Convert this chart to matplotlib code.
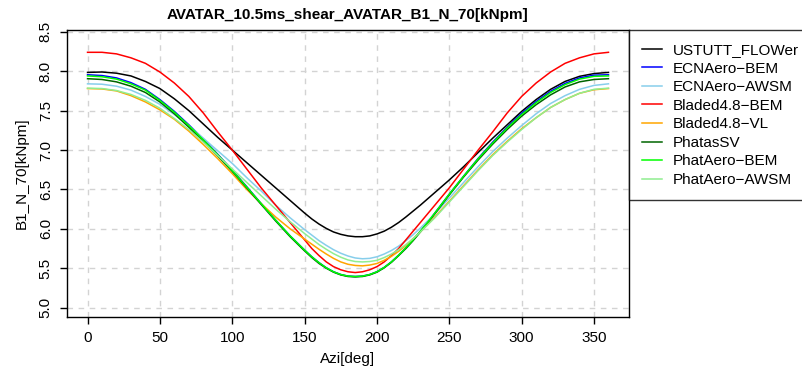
import matplotlib
matplotlib.use("Agg")
import matplotlib.pyplot as plt
import numpy as np

plt.rcParams['font.family'] = ['Liberation Sans', 'DejaVu Sans']

# azimuth positions (deg) - finer around the minimum
azi = [0, 10, 20, 30, 40, 50, 60, 70, 80, 90, 100, 110, 120, 130,
       135, 140, 145, 150, 155, 160, 165, 170, 175, 180, 185, 190, 195, 200,
       205, 210, 215, 220, 225, 230, 235, 240,
       250, 260, 270, 280, 290, 300, 310, 320, 330, 340, 350, 360]

# B1_N_70 [kN/m]
ustutt_flower = [7.985, 7.99, 7.975, 7.94, 7.87, 7.78, 7.65, 7.50, 7.33, 7.16, 7.00, 6.84, 6.68, 6.52,
                 6.44, 6.36, 6.28, 6.20, 6.125, 6.06, 6.005, 5.96, 5.93, 5.91, 5.90, 5.90, 5.91, 5.935,
                 5.97, 6.02, 6.08, 6.15, 6.225, 6.30, 6.38, 6.46,
                 6.62, 6.79, 6.97, 7.15, 7.32, 7.49, 7.64, 7.77, 7.87, 7.935, 7.97, 7.985]
ecnaero_bem = [7.955, 7.945, 7.915, 7.855, 7.77, 7.64, 7.49, 7.32, 7.14, 6.945, 6.745, 6.535, 6.32, 6.11,
               6.01, 5.91, 5.82, 5.73, 5.645, 5.57, 5.505, 5.455, 5.42, 5.40, 5.395, 5.40, 5.42, 5.455,
               5.51, 5.58, 5.665, 5.76, 5.86, 5.97, 6.08, 6.20,
               6.44, 6.67, 6.895, 7.10, 7.29, 7.465, 7.615, 7.745, 7.845, 7.915, 7.95, 7.955]
ecnaero_awsm = [7.84, 7.835, 7.81, 7.76, 7.68, 7.58, 7.45, 7.31, 7.15, 6.99, 6.83, 6.65, 6.48, 6.30,
                6.22, 6.14, 6.065, 5.99, 5.92, 5.85, 5.79, 5.735, 5.69, 5.655, 5.63, 5.62, 5.625, 5.645,
                5.68, 5.725, 5.78, 5.85, 5.925, 6.01, 6.10, 6.19,
                6.39, 6.59, 6.79, 6.98, 7.15, 7.31, 7.46, 7.59, 7.69, 7.77, 7.82, 7.84]
bladed_bem = [8.24, 8.24, 8.22, 8.17, 8.10, 7.99, 7.85, 7.68, 7.47, 7.23, 7.00, 6.76, 6.52, 6.30,
              6.19, 6.08, 5.97, 5.86, 5.75, 5.66, 5.58, 5.52, 5.48, 5.455, 5.445, 5.455, 5.48, 5.52,
              5.58, 5.66, 5.75, 5.86, 5.97, 6.08, 6.19, 6.30,
              6.52, 6.76, 7.00, 7.23, 7.47, 7.68, 7.85, 7.99, 8.10, 8.17, 8.22, 8.24]
bladed_vl = [7.78, 7.775, 7.75, 7.69, 7.61, 7.51, 7.39, 7.24, 7.07, 6.89, 6.70, 6.50, 6.32, 6.15,
             6.075, 6.00, 5.935, 5.87, 5.805, 5.74, 5.68, 5.625, 5.58, 5.55, 5.535, 5.53, 5.54, 5.56,
             5.60, 5.65, 5.715, 5.79, 5.875, 5.96, 6.055, 6.15,
             6.35, 6.55, 6.75, 6.94, 7.11, 7.27, 7.41, 7.54, 7.64, 7.72, 7.765, 7.78]
phatas_sv = [7.905, 7.895, 7.865, 7.81, 7.73, 7.61, 7.46, 7.29, 7.11, 6.925, 6.73, 6.52, 6.31, 6.10,
             6.00, 5.90, 5.81, 5.72, 5.635, 5.56, 5.50, 5.45, 5.415, 5.395, 5.39, 5.395, 5.415, 5.45,
             5.505, 5.575, 5.66, 5.75, 5.85, 5.96, 6.075, 6.19,
             6.43, 6.66, 6.875, 7.075, 7.26, 7.43, 7.575, 7.70, 7.80, 7.865, 7.895, 7.905]
phataero_bem = [7.94, 7.93, 7.90, 7.84, 7.76, 7.63, 7.48, 7.31, 7.13, 6.94, 6.74, 6.53, 6.32, 6.11,
                6.01, 5.91, 5.82, 5.73, 5.645, 5.57, 5.505, 5.455, 5.42, 5.40, 5.395, 5.40, 5.42, 5.455,
                5.51, 5.58, 5.665, 5.76, 5.86, 5.97, 6.08, 6.20,
                6.44, 6.67, 6.89, 7.09, 7.28, 7.45, 7.60, 7.73, 7.83, 7.90, 7.935, 7.94]
phataero_awsm = [7.785, 7.78, 7.755, 7.705, 7.63, 7.53, 7.40, 7.26, 7.10, 6.93, 6.76, 6.59, 6.42, 6.25,
                 6.17, 6.09, 6.015, 5.94, 5.87, 5.80, 5.74, 5.685, 5.64, 5.605, 5.585, 5.58, 5.585, 5.60,
                 5.635, 5.68, 5.735, 5.80, 5.875, 5.96, 6.05, 6.14,
                 6.34, 6.54, 6.74, 6.93, 7.10, 7.26, 7.41, 7.54, 7.64, 7.72, 7.77, 7.785]

labels = ['USTUTT_FLOWer', 'ECNAero\u2212BEM', 'ECNAero\u2212AWSM', 'Bladed4.8\u2212BEM',
          'Bladed4.8\u2212VL', 'PhatasSV', 'PhatAero\u2212BEM', 'PhatAero\u2212AWSM']
series = [ustutt_flower, ecnaero_bem, ecnaero_awsm, bladed_bem,
          bladed_vl, phatas_sv, phataero_bem, phataero_awsm]
colors = ['black', 'blue', '#87CEEB', 'red', '#FFA500', '#006400', '#00FF00', '#90EE90']

W, H = 803, 374
fig = plt.figure(figsize=(W / 100, H / 100), dpi=100)
ax = fig.add_axes([66.7 / W, 1 - 317 / H, 562.6 / W, 287 / H])

# grid first, behind the curves
xt = np.arange(0, 351, 50)
yt = np.arange(5.0, 8.51, 0.5)
for x in xt:
    ax.axvline(x, color='#d3d3d3', ls=(0, (4, 4)), lw=1, zorder=0)
for y in yt:
    ax.axhline(y, color='#d3d3d3', ls=(0, (4, 4)), lw=1, zorder=0)

for vals, lab, c in zip(series, labels, colors):
    ax.plot(azi, vals, color=c, lw=1.1, label=lab)

ax.set_xlim(-14.4, 374.4)
ax.set_ylim(4.881, 8.523)
ax.set_xticks(xt)
ax.set_yticks(yt)
ax.set_yticklabels([f'{v:.1f}' for v in yt], rotation=90, va='center')
ax.tick_params(direction='out', length=5, width=1, labelsize=11, pad=5)
for s in ax.spines.values():
    s.set_linewidth(1)

ax.set_xlabel('Azi[deg]', fontsize=11, labelpad=5)
ax.set_ylabel('B1_N_70[kNpm]', fontsize=11, labelpad=7)
ax.set_title('AVATAR_10.5ms_shear_AVATAR_B1_N_70[kNpm]', fontsize=11, fontweight='bold', pad=8)

leg = fig.legend(loc='upper left', bbox_to_anchor=(629 / W, 1 - 30 / H), fontsize=11,
                 frameon=True, fancybox=False, borderpad=0.85, labelspacing=0.3,
                 handlelength=1.3, handletextpad=0.72, borderaxespad=0)
leg.get_frame().set_edgecolor('black')
leg.get_frame().set_linewidth(1)

fig.savefig('out.png', dpi=100)
